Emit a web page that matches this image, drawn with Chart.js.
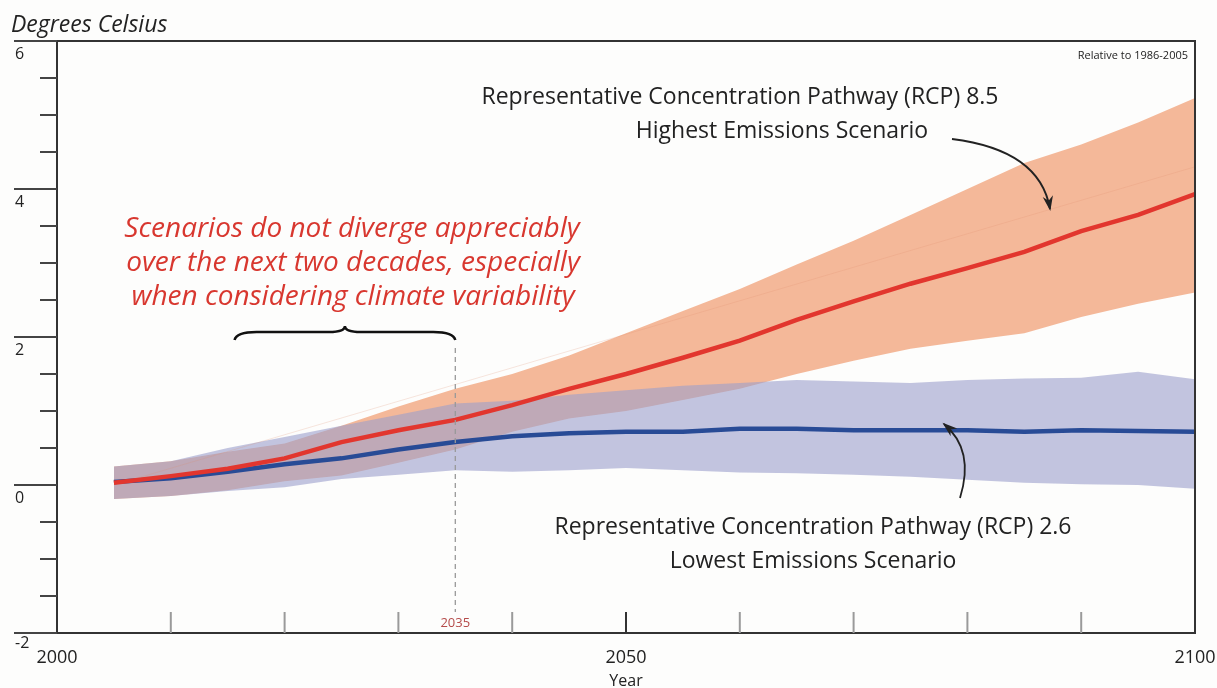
<!DOCTYPE html>
<html>
<head>
<meta charset="utf-8">
<title>Projected global temperature change</title>
<script src="https://cdn.jsdelivr.net/npm/chart.js@4.4.1/dist/chart.umd.min.js"></script>
<style>
    html, body { margin: 0; padding: 0; background: #fdfdfc; }
    #box { width: 1217px; height: 688px; position: relative; }
</style>
</head>
<body>
<div id="box"><canvas id="tempChart"></canvas></div>
<script>
/* DADOS */
const years = [2005, 2010, 2015, 2020, 2025, 2030, 2035, 2040, 2045, 2050, 2055, 2060, 2065, 2070, 2075, 2080, 2085, 2090, 2095, 2100];

const rcp85Mean = [0.03, 0.12, 0.22, 0.36, 0.58, 0.74, 0.88, 1.08, 1.30, 1.50, 1.72, 1.95, 2.23, 2.48, 2.72, 2.93, 3.15, 3.43, 3.65, 3.93];
const rcp85High = [0.25, 0.32, 0.45, 0.56, 0.80, 1.06, 1.30, 1.50, 1.75, 2.05, 2.35, 2.65, 2.98, 3.30, 3.65, 4.00, 4.35, 4.60, 4.90, 5.23];
const rcp85Low = [-0.19, -0.15, -0.07, 0.05, 0.13, 0.30, 0.48, 0.72, 0.90, 1.00, 1.15, 1.30, 1.50, 1.68, 1.84, 1.95, 2.05, 2.27, 2.45, 2.60];

const rcp26Mean = [0.04, 0.09, 0.18, 0.28, 0.36, 0.48, 0.58, 0.66, 0.70, 0.72, 0.72, 0.76, 0.76, 0.74, 0.74, 0.74, 0.72, 0.74, 0.73, 0.72];
const rcp26High = [0.25, 0.32, 0.50, 0.65, 0.80, 0.95, 1.10, 1.14, 1.22, 1.28, 1.34, 1.38, 1.42, 1.40, 1.38, 1.42, 1.44, 1.45, 1.53, 1.43];
const rcp26Low = [-0.19, -0.15, -0.08, -0.03, 0.08, 0.14, 0.20, 0.18, 0.20, 0.23, 0.20, 0.17, 0.16, 0.14, 0.11, 0.07, 0.03, 0.01, 0.00, -0.05];

const trendYears = [2005, 2100];
const trendValues = [0.0, 4.3];

const yMajorTicks = [6, 4, 2, 0, -2];
const yMinorTicks = [5.5, 5, 4.5, 3.5, 3, 2.5, 1.5, 1, 0.5, -0.5, -1, -1.5];
const xMinorTicks = [2010, 2020, 2030, 2040, 2060, 2070, 2080, 2090];
const xLabels = [2000, 2050, 2100];
const markerYear = 2035;

function pontos(xs, ys) {
    return xs.map(function (x, i) {
        return { x: x, y: ys[i] };
    });
}

function seta(ctx, x0, y0, cx, cy, x1, y1) {
    ctx.beginPath();
    ctx.moveTo(x0, y0);
    ctx.quadraticCurveTo(cx, cy, x1, y1);
    ctx.stroke();

    const ang = Math.atan2(y1 - cy, x1 - cx);
    const len = 14;
    ctx.beginPath();
    ctx.moveTo(x1 + Math.cos(ang) * 2, y1 + Math.sin(ang) * 2);
    ctx.lineTo(x1 - len * Math.cos(ang - 0.38), y1 - len * Math.sin(ang - 0.38));
    ctx.lineTo(x1 - len * 0.6 * Math.cos(ang), y1 - len * 0.6 * Math.sin(ang));
    ctx.lineTo(x1 - len * Math.cos(ang + 0.38), y1 - len * Math.sin(ang + 0.38));
    ctx.closePath();
    ctx.fill();
}

const decoracao = {
    id: "decoracao",
    afterDraw: function (chart) {
        const ctx = chart.ctx;
        const xs = chart.scales.x;
        const ys = chart.scales.y;
        const left = xs.getPixelForValue(2000);
        const right = xs.getPixelForValue(2100);
        const top = ys.getPixelForValue(6);
        const bottom = ys.getPixelForValue(-2);

        ctx.save();

        // moldura
        ctx.strokeStyle = "#333";
        ctx.lineWidth = 2;
        ctx.beginPath();
        ctx.moveTo(14, top); ctx.lineTo(right, top); ctx.lineTo(right, bottom); ctx.lineTo(14, bottom);
        ctx.moveTo(left, top); ctx.lineTo(left, bottom);
        ctx.stroke();

        // ticks y
        ctx.strokeStyle = "#444";
        yMajorTicks.forEach(function (v) {
            const p = ys.getPixelForValue(v);
            ctx.beginPath(); ctx.moveTo(14, p); ctx.lineTo(left, p); ctx.stroke();
        });
        yMinorTicks.forEach(function (v) {
            const p = ys.getPixelForValue(v);
            ctx.beginPath(); ctx.moveTo(40, p); ctx.lineTo(left, p); ctx.stroke();
        });

        // ticks x
        ctx.strokeStyle = "#9a9a9a";
        xMinorTicks.forEach(function (v) {
            const p = xs.getPixelForValue(v);
            ctx.beginPath(); ctx.moveTo(p, bottom); ctx.lineTo(p, bottom - 21); ctx.stroke();
        });
        ctx.strokeStyle = "#333";
        const p50 = xs.getPixelForValue(2050);
        ctx.beginPath(); ctx.moveTo(p50, bottom); ctx.lineTo(p50, bottom - 21); ctx.stroke();

        // rótulos
        ctx.fillStyle = "#222";
        ctx.font = "16px 'Open Sans'";
        ctx.textAlign = "left";
        yMajorTicks.forEach(function (v) {
            const extra = v === -2 ? -3 : 0;
            ctx.fillText(String(v), 15, ys.getPixelForValue(v) + 18 + extra);
        });
        ctx.font = "18px 'Open Sans'";
        ctx.textAlign = "center";
        xLabels.forEach(function (v) {
            ctx.fillText(String(v), xs.getPixelForValue(v), 663);
        });
        ctx.font = "16px 'Open Sans'";
        ctx.fillText("Year", p50, 686);

        ctx.textAlign = "left";
        ctx.font = "italic 23px 'Open Sans'";
        ctx.fillText("Degrees Celsius", 11, 32);

        ctx.textAlign = "right";
        ctx.font = "11px 'Open Sans'";
        ctx.fillText("Relative to 1986-2005", 1188, 59);

        // linha 2035
        const pm = xs.getPixelForValue(markerYear);
        ctx.strokeStyle = "#999";
        ctx.lineWidth = 1.3;
        ctx.setLineDash([5, 4]);
        ctx.beginPath(); ctx.moveTo(pm, 348); ctx.lineTo(pm, 612); ctx.stroke();
        ctx.setLineDash([]);
        ctx.fillStyle = "#b54b4a";
        ctx.textAlign = "center";
        ctx.font = "13px 'Open Sans'";
        ctx.fillText(String(markerYear), pm, 627);

        // chave
        const bl = xs.getPixelForValue(2015.6);
        const bm = (bl + pm) / 2;
        ctx.strokeStyle = "#111";
        ctx.lineWidth = 2.5;
        ctx.beginPath();
        ctx.moveTo(bl, 340);
        ctx.quadraticCurveTo(bl + 2, 332, bl + 22, 332);
        ctx.lineTo(bm - 16, 332);
        ctx.quadraticCurveTo(bm, 332, bm, 326);
        ctx.quadraticCurveTo(bm, 332, bm + 16, 332);
        ctx.lineTo(pm - 22, 332);
        ctx.quadraticCurveTo(pm - 2, 332, pm, 340);
        ctx.stroke();

        // texto vermelho
        ctx.fillStyle = "#d8372f";
        ctx.font = "italic 28px 'Open Sans'";
        ctx.fillText("Scenarios do not diverge appreciably", 352, 237);
        ctx.fillText("over the next two decades, especially", 353, 271);
        ctx.fillText("when considering climate variability", 353, 305);

        // textos pretos
        ctx.fillStyle = "#222";
        ctx.font = "23px 'Open Sans'";
        ctx.fillText("Representative Concentration Pathway (RCP) 8.5", 740, 104);
        ctx.fillText("Highest Emissions Scenario", 782, 138);
        ctx.fillText("Representative Concentration Pathway (RCP) 2.6", 813, 534);
        ctx.fillText("Lowest Emissions Scenario", 813, 568);

        // setas
        ctx.strokeStyle = "#222";
        ctx.fillStyle = "#222";
        ctx.lineWidth = 1.8;
        seta(ctx, 952, 139, 1040, 150, 1050, 209);
        seta(ctx, 960, 498, 975, 450, 944, 424);

        ctx.restore();
    }
};

const ctx = document.getElementById("tempChart");

new Chart(ctx, {
    type: "line",
    data: {
        datasets: [
            {
                label: "RCP 8.5",
                data: pontos(years, rcp85Mean),
                borderColor: "#e2362e",
                borderWidth: 4.5,
                pointRadius: 0,
                fill: false,
                order: 0
            },
            {
                label: "RCP 2.6",
                data: pontos(years, rcp26Mean),
                borderColor: "#284b96",
                borderWidth: 4.5,
                pointRadius: 0,
                fill: false,
                order: 1
            },
            {
                label: "RCP 8.5 trend",
                data: pontos(trendYears, trendValues),
                borderColor: "rgba(225,140,110,0.22)",
                borderWidth: 1,
                pointRadius: 0,
                fill: false,
                order: 2
            },
            {
                label: "RCP 2.6 low",
                data: pontos(years, rcp26Low),
                borderWidth: 0,
                pointRadius: 0,
                fill: false,
                order: 4
            },
            {
                label: "RCP 2.6 high",
                data: pontos(years, rcp26High),
                borderWidth: 0,
                pointRadius: 0,
                backgroundColor: "rgba(155,158,203,0.6)",
                fill: "-1",
                order: 3
            },
            {
                label: "RCP 8.5 low",
                data: pontos(years, rcp85Low),
                borderWidth: 0,
                pointRadius: 0,
                fill: false,
                order: 6
            },
            {
                label: "RCP 8.5 high",
                data: pontos(years, rcp85High),
                borderWidth: 0,
                pointRadius: 0,
                backgroundColor: "#f4b899",
                fill: "-1",
                order: 5
            }
        ]
    },
    options: {
        responsive: true,
        maintainAspectRatio: false,
        animation: false,
        layout: { padding: { left: 57, top: 41, right: 22, bottom: 55 } },
        scales: {
            x: { type: "linear", min: 2000, max: 2100, display: false },
            y: { min: -2, max: 6, display: false }
        },
        plugins: {
            legend: { display: false },
            tooltip: { enabled: false }
        }
    },
    plugins: [decoracao]
});
</script>
</body>
</html>
